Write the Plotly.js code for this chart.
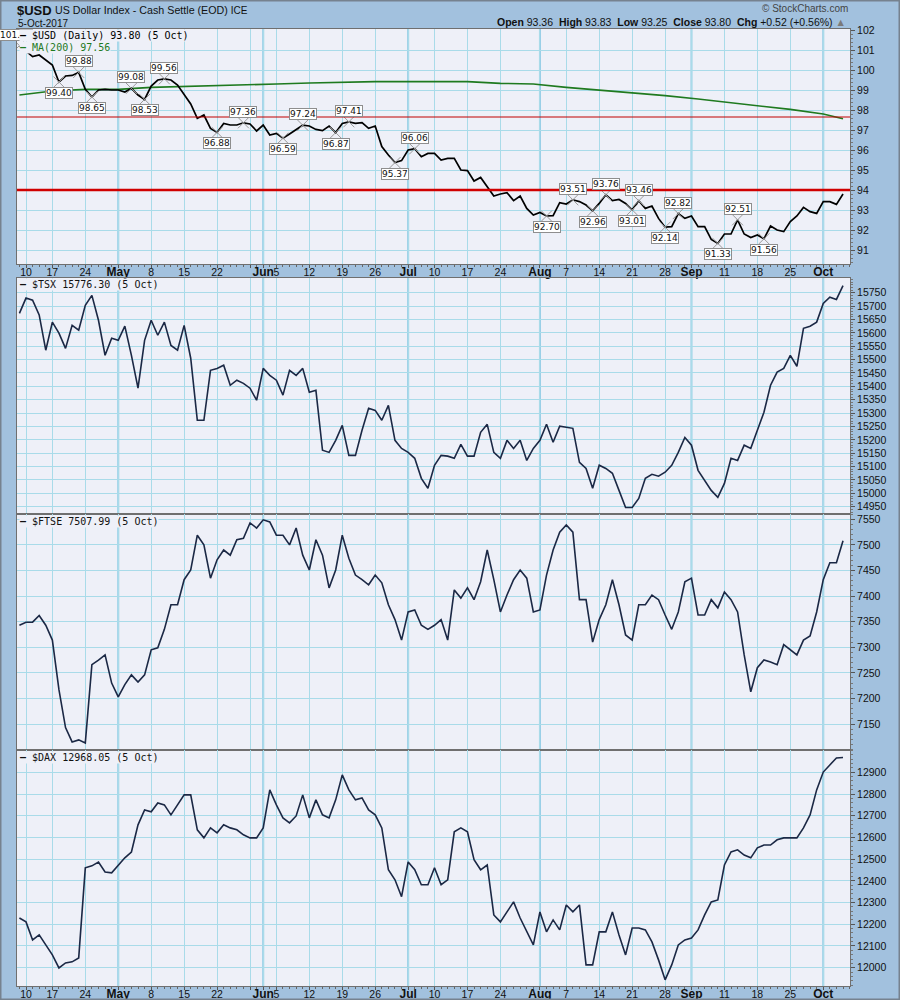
<!DOCTYPE html>
<html><head><meta charset="utf-8">
<script src="https://cdn.plot.ly/plotly-3.0.1.min.js"></script>
<style>html,body{margin:0;padding:0;background:#a2c1de}#chart{width:900px;height:1000px}</style>
</head><body><div id="chart"></div>
<script>
// ---------- DATA ----------
const dates = [
 '04-07','04-10','04-11','04-12','04-13','04-17','04-18','04-19','04-20','04-21',
 '04-24','04-25','04-26','04-27','04-28','05-01','05-02','05-03','05-04','05-05',
 '05-08','05-09','05-10','05-11','05-12','05-15','05-16','05-17','05-18','05-19',
 '05-22','05-23','05-24','05-25','05-26','05-30','05-31','06-01','06-02','06-05',
 '06-06','06-07','06-08','06-09','06-12','06-13','06-14','06-15','06-16','06-19',
 '06-20','06-21','06-22','06-23','06-26','06-27','06-28','06-29','06-30','07-03',
 '07-05','07-06','07-07','07-10','07-11','07-12','07-13','07-14','07-17','07-18',
 '07-19','07-20','07-21','07-24','07-25','07-26','07-27','07-28','07-31','08-01',
 '08-02','08-03','08-04','08-07','08-08','08-09','08-10','08-11','08-14','08-15',
 '08-16','08-17','08-18','08-21','08-22','08-23','08-24','08-25','08-28','08-29',
 '08-30','08-31','09-01','09-05','09-06','09-07','09-08','09-11','09-12','09-13',
 '09-14','09-15','09-18','09-19','09-20','09-21','09-22','09-25','09-26','09-27',
 '09-28','09-29','10-02','10-03','10-04','10-05'
].map(d => '2017-' + d);

const usd = [
 101.22,100.92,100.67,100.75,100.50,100.25,99.40,99.70,99.73,99.88,
 99.03,98.65,99.00,99.03,99.00,99.00,98.90,99.08,98.75,98.53,
 99.20,99.50,99.56,99.50,99.25,98.80,98.30,97.58,97.75,97.08,
 96.88,97.33,97.25,97.25,97.36,97.30,96.95,97.25,96.75,96.83,
 96.59,96.80,97.00,97.24,97.20,97.03,96.97,97.20,96.87,97.33,
 97.41,97.33,97.37,97.08,97.20,96.17,95.75,95.37,95.47,96.00,
 96.06,95.66,95.83,95.83,95.50,95.58,95.58,95.00,94.97,94.45,
 94.63,94.17,93.70,93.80,93.87,93.47,93.70,93.08,92.75,92.88,
 92.70,92.72,93.37,93.30,93.51,93.42,93.25,92.96,93.33,93.76,
 93.47,93.53,93.33,93.01,93.46,93.08,93.20,92.58,92.14,92.17,
 92.82,92.58,92.70,92.17,92.17,91.53,91.33,91.80,91.80,92.51,
 91.80,91.62,91.75,91.56,92.20,92.00,91.92,92.42,92.70,93.13,
 92.92,92.83,93.42,93.42,93.28,93.80
];

const maDates = ['04-07','04-17','04-24','05-01','05-08','05-15','05-22','05-30','06-05','06-12',
 '06-19','06-26','07-03','07-10','07-17','07-24','07-31','08-07','08-14','08-21',
 '08-28','09-05','09-11','09-18','09-25','10-02','10-05'].map(d => '2017-' + d);
const ma200 = [98.75,98.95,99.03,99.03,99.13,99.17,99.20,99.25,99.30,99.35,
 99.40,99.42,99.42,99.42,99.42,99.33,99.30,99.13,99.00,98.87,
 98.72,98.55,98.40,98.20,98.03,97.80,97.56];

const tsx = [
 15673,15730,15722,15667,15535,15640,15599,15542,15628,15610,
 15703,15740,15647,15516,15580,15572,15625,15516,15393,15572,
 15647,15591,15640,15553,15535,15628,15505,15273,15273,15460,
 15467,15479,15404,15423,15411,15393,15348,15467,15441,15423,
 15367,15460,15441,15467,15378,15385,15161,15153,15198,15254,
 15142,15142,15236,15318,15310,15273,15329,15198,15168,15153,
 15131,15056,15019,15105,15142,15139,15131,15183,15139,15139,
 15228,15258,15153,15131,15198,15168,15198,15123,15168,15198,
 15258,15191,15251,15247,15243,15116,15093,15019,15105,15093,
 15075,15011,14947,14947,14981,15056,15071,15064,15079,15105,
 15153,15209,15180,15086,15049,15011,14985,15037,15131,15123,
 15180,15168,15236,15303,15404,15453,15467,15516,15475,15617,
 15625,15640,15710,15733,15725,15776.30
];

const ftse = [
 7343,7349,7349,7362,7343,7314,7217,7143,7115,7119,
 7113,7266,7275,7285,7230,7203,7227,7246,7232,7246,
 7295,7299,7335,7383,7383,7432,7451,7519,7500,7435,
 7471,7490,7480,7510,7513,7543,7533,7549,7545,7519,
 7519,7500,7533,7480,7451,7510,7480,7416,7451,7519,
 7474,7441,7432,7422,7441,7426,7383,7354,7314,7369,
 7373,7343,7335,7343,7354,7314,7412,7396,7416,7393,
 7428,7490,7432,7369,7402,7432,7451,7435,7369,7373,
 7441,7490,7525,7539,7525,7393,7393,7310,7354,7383,
 7432,7383,7324,7314,7383,7383,7402,7393,7363,7335,
 7369,7428,7435,7363,7363,7393,7377,7408,7393,7369,
 7285,7213,7260,7275,7271,7266,7305,7295,7285,7314,
 7322,7369,7432,7465,7465,7507.99
];

const dax = [
 12229,12211,12128,12151,12105,12059,11999,12022,12027,12045,
 12460,12469,12487,12441,12437,12473,12506,12533,12658,12727,
 12718,12759,12750,12704,12750,12796,12796,12635,12598,12644,
 12621,12658,12644,12635,12612,12598,12598,12644,12819,12750,
 12690,12667,12699,12796,12690,12773,12704,12690,12773,12888,
 12819,12773,12782,12727,12704,12644,12451,12405,12327,12487,
 12451,12382,12382,12460,12382,12405,12626,12644,12626,12497,
 12451,12473,12243,12211,12257,12303,12229,12165,12105,12257,
 12165,12220,12174,12289,12257,12289,12013,12013,12165,12165,
 12257,12151,12059,12183,12183,12174,12119,12036,11944,12013,
 12105,12128,12137,12174,12243,12303,12312,12473,12533,12543,
 12519,12506,12552,12565,12565,12589,12598,12598,12598,12644,
 12704,12819,12901,12934,12966,12968.05
];

const labelDates = ['04-07','04-18','04-21','04-25','05-03','05-05','05-10','05-22','05-26','06-06',
 '06-09','06-16','06-20','06-29','07-05','08-02','08-08','08-11','08-15','08-21',
 '08-22','08-28','08-30','09-08','09-13','09-19'].map(d => '2017-' + d);
const labelValues = [101.22,99.40,99.88,98.65,99.08,98.53,99.56,96.88,97.36,96.59,
 97.24,96.87,97.41,95.37,96.06,92.70,93.51,92.96,93.76,93.01,
 93.46,92.14,92.82,91.33,92.51,91.56];
const labelKinds = ['peak','trough','peak','trough','peak','trough','peak','trough','peak','trough',
 'peak','trough','peak','trough','peak','trough','peak','trough','peak','trough',
 'peak','trough','peak','trough','peak','trough'];

const xTickDates = ['04-10','04-17','04-24','05-01','05-08','05-15','05-22','05-30','06-01','06-05',
 '06-12','06-19','06-26','07-03','07-10','07-17','07-24','08-01','08-07','08-14',
 '08-21','08-28','09-01','09-11','09-18','09-25','10-02'].map(d => '2017-' + d);
const xTickLabels = ['10','17','24','May','8','15','22','','Jun','5',
 '12','19','26','Jul','10','17','24','Aug','7','14',
 '21','28','Sep','11','18','25','Oct'];
const monthStarts = ['05-01','06-01','07-03','08-01','09-01','10-02'].map(d => '2017-' + d);

const usdTicks = [91,92,93,94,95,96,97,98,99,100,101,102];
const tsxTicks = [14950,15000,15050,15100,15150,15200,15250,15300,15350,15400,15450,15500,15550,15600,15650,15700,15750];
const ftseTicks = [7150,7200,7250,7300,7350,7400,7450,7500,7550];
const daxTicks = [12000,12100,12200,12300,12400,12500,12600,12700,12800,12900];

const resistanceLevel = 94.0;
const thinLevel = 97.65;

// ---------- LAYOUT HELPERS ----------
const W = 900, H = 1000;
const px = x => x / W, py = y => 1 - y / H;
const PL = 17, PR = 850;
const panels = [[29,264],[278,514],[514,750],[750,986]];
const dom = p => [py(p[1]), py(p[0])];
const GRID = '#a9dbe9', LINE = '#6f6f6f', PLOTBG = '#eef0f8';
const NAVY = '#1b2845';
const tickFont = {family:'Liberation Sans, Arial, sans-serif', size:10.5, color:'#111'};
const monoFont = (c) => ({family:'DejaVu Sans Mono, monospace', size:10, color:c});
const fmtTick = t => /^[A-Za-z]+$/.test(t) ? '<b><span style="font-size:12px">' + t + '</span></b>' : t;

function xAxis(anchor, labels){
  const a = {
    type:'category', categoryorder:'array', categoryarray:dates,
    range:[-0.366, 126.06], domain:[px(PL), px(PR)], anchor:anchor,
    tickmode:'array', tickvals:xTickDates, ticktext:xTickLabels.map(fmtTick), tickangle:0,
    showticklabels:labels, ticks: labels ? 'outside' : '', ticklen:3, tickcolor:'#555',
    ticklabelstandoff: -5,
    showgrid:true, gridcolor:GRID, gridwidth:1,
    showline:true, linecolor:LINE, linewidth:1, mirror:true,
    tickfont:tickFont, zeroline:false, fixedrange:true, automargin:false
  };
  if (labels) a.minor = {ticks:'outside', ticklen:2, dtick:1, tickcolor:'#666', showgrid:false};
  if (anchor !== 'y') a.matches = 'x';
  return a;
}
function yAxis(range, ticks, p, anchor, minorD){
  return {
    range:range, domain:dom(p), anchor:anchor, side:'right',
    tickmode:'array', tickvals:ticks, tickformat:'d', ticks:'outside', ticklen:4, tickcolor:'#555',
    showgrid:true, gridcolor:GRID, gridwidth:1,
    showline:true, linecolor:LINE, linewidth:1, mirror:true,
    tickfont:tickFont, zeroline:false, fixedrange:true, automargin:false,
    minor:{ticks:'outside', ticklen:2, dtick:minorD, tickcolor:'#777', showgrid:false}
  };
}

// ---------- TRACES ----------
const traces = [
  {x:maDates, y:ma200, xaxis:'x', yaxis:'y', mode:'lines', line:{color:'#1f7a1f', width:1.6}, hoverinfo:'skip'},
  {x:dates, y:usd, xaxis:'x', yaxis:'y', mode:'lines', line:{color:'#000', width:1.7}, hoverinfo:'skip'},
  {x:labelDates, y:labelValues, xaxis:'x', yaxis:'y', mode:'markers',
   marker:{symbol:'x-thin-open', size:11, color:'#9a9a9a', line:{color:'#9a9a9a', width:1}}, hoverinfo:'skip'},
  {x:dates, y:tsx, xaxis:'x2', yaxis:'y2', mode:'lines', line:{color:NAVY, width:1.6}, hoverinfo:'skip'},
  {x:dates, y:ftse, xaxis:'x3', yaxis:'y3', mode:'lines', line:{color:NAVY, width:1.6}, hoverinfo:'skip'},
  {x:dates, y:dax, xaxis:'x4', yaxis:'y4', mode:'lines', line:{color:NAVY, width:1.6}, hoverinfo:'skip'}
];

// ---------- SHAPES ----------
const shapes = [];
['x','x2','x3','x4'].forEach((xa, i) => {
  const ya = i === 0 ? 'y' : 'y' + (i + 1);
  monthStarts.forEach(m => {
    const idx = dates.indexOf(m);
    shapes.push({type:'line', xref:xa, yref:ya + ' domain', x0:idx, x1:idx, y0:0, y1:1,
      line:{color:'#93cde6', width:2}, layer:'below'});
  });
});
shapes.push({type:'line', xref:'x domain', yref:'y', x0:0, x1:1, y0:thinLevel, y1:thinLevel, line:{color:'#c00000', width:1}});
shapes.push({type:'line', xref:'x domain', yref:'y', x0:0, x1:1, y0:resistanceLevel, y1:resistanceLevel, line:{color:'#d00000', width:2.6}});
shapes.push({type:'rect', xref:'paper', yref:'paper', x0:0, x1:1, y0:0, y1:1, line:{color:'#76828f', width:3}});

// ---------- ANNOTATIONS ----------
const annotations = [];
labelDates.forEach((d, i) => {
  const peak = labelKinds[i] === 'peak';
  annotations.push({xref:'x', yref:'y', x:dates.indexOf(d), y:labelValues[i], text:labelValues[i].toFixed(2),
    showarrow:false, yshift: peak ? 11 : -11, xshift: i === 0 ? -3 : 0,
    bgcolor:'#ffffff', bordercolor:'#8e8e8e', borderwidth:1, borderpad:0,
    font:{family:'DejaVu Sans, Verdana, sans-serif', size:9, color:'#111'}});
});
const A = (x, y, text, font, opts) => Object.assign({xref:'paper', yref:'paper', x:px(x), y:py(y), text:text,
  showarrow:false, xanchor:'left', yanchor:'middle', font:font}, opts || {});
const sans = (s, c) => ({family:'Liberation Sans, Arial, sans-serif', size:s, color:c || '#111'});

annotations.push(A(15, 10, '<b>$USD</b>', sans(13, '#111')));
annotations.push(A(53, 10.5, 'US Dollar Index - Cash Settle (EOD) <span style="font-size:10px">ICE</span>', sans(10.7, '#111')));
annotations.push(A(16, 23, '5-Oct-2017', sans(10, '#111')));
annotations.push(A(850, 8.5, '\u00a9\u00a0StockCharts.com', sans(10, '#444'), {xanchor:'right'}));
annotations.push(A(848, 22.5,
  '<b>Open</b> 93.36\u00a0\u00a0<b>High</b> 93.83\u00a0\u00a0<b>Low</b> 93.25\u00a0\u00a0<b>Close</b> 93.80\u00a0\u00a0<b>Chg</b> +0.52 (+0.56%) <span style="color:#7a7a7a">\u25b2</span>',
  sans(10.5, '#111'), {xanchor:'right'}));

annotations.push(A(18.5, 35, '<b>\u2014</b> $USD (Daily) 93.80 (5 Oct)', monoFont('#000'), {bgcolor:PLOTBG, borderpad:0}));
annotations.push(A(18.5, 47, '<b>\u2014</b> MA(200) 97.56', monoFont('#1f7a1f'), {bgcolor:PLOTBG, borderpad:0}));
annotations.push(A(18.5, 285, '<b>\u2014</b> $TSX 15776.30 (5 Oct)', monoFont('#111'), {bgcolor:PLOTBG, borderpad:0}));
annotations.push(A(18.5, 521, '<b>\u2014</b> $FTSE 7507.99 (5 Oct)', monoFont('#111'), {bgcolor:PLOTBG, borderpad:0}));
annotations.push(A(18.5, 757, '<b>\u2014</b> $DAX 12968.05 (5 Oct)', monoFont('#111'), {bgcolor:PLOTBG, borderpad:0}));

// ---------- LAYOUT ----------
const layout = {
  width:W, height:H, margin:{l:0, r:0, t:0, b:0},
  paper_bgcolor:'#a2c1de', plot_bgcolor:PLOTBG, showlegend:false,
  xaxis:xAxis('y', true), xaxis2:xAxis('y2', false), xaxis3:xAxis('y3', false), xaxis4:xAxis('y4', true),
  yaxis:yAxis([90.3, 102.05], usdTicks, panels[0], 'x', 0.2),
  yaxis2:yAxis([14922.7, 15805], tsxTicks, panels[1], 'x2', 10),
  yaxis3:yAxis([7099.2, 7560.4], ftseTicks, panels[2], 'x3', 10),
  yaxis4:yAxis([11915.7, 13002.7], daxTicks, panels[3], 'x4', 20),
  shapes:shapes, annotations:annotations
};

Plotly.newPlot('chart', traces, layout, {displayModeBar:false, staticPlot:true});
</script></body></html>
